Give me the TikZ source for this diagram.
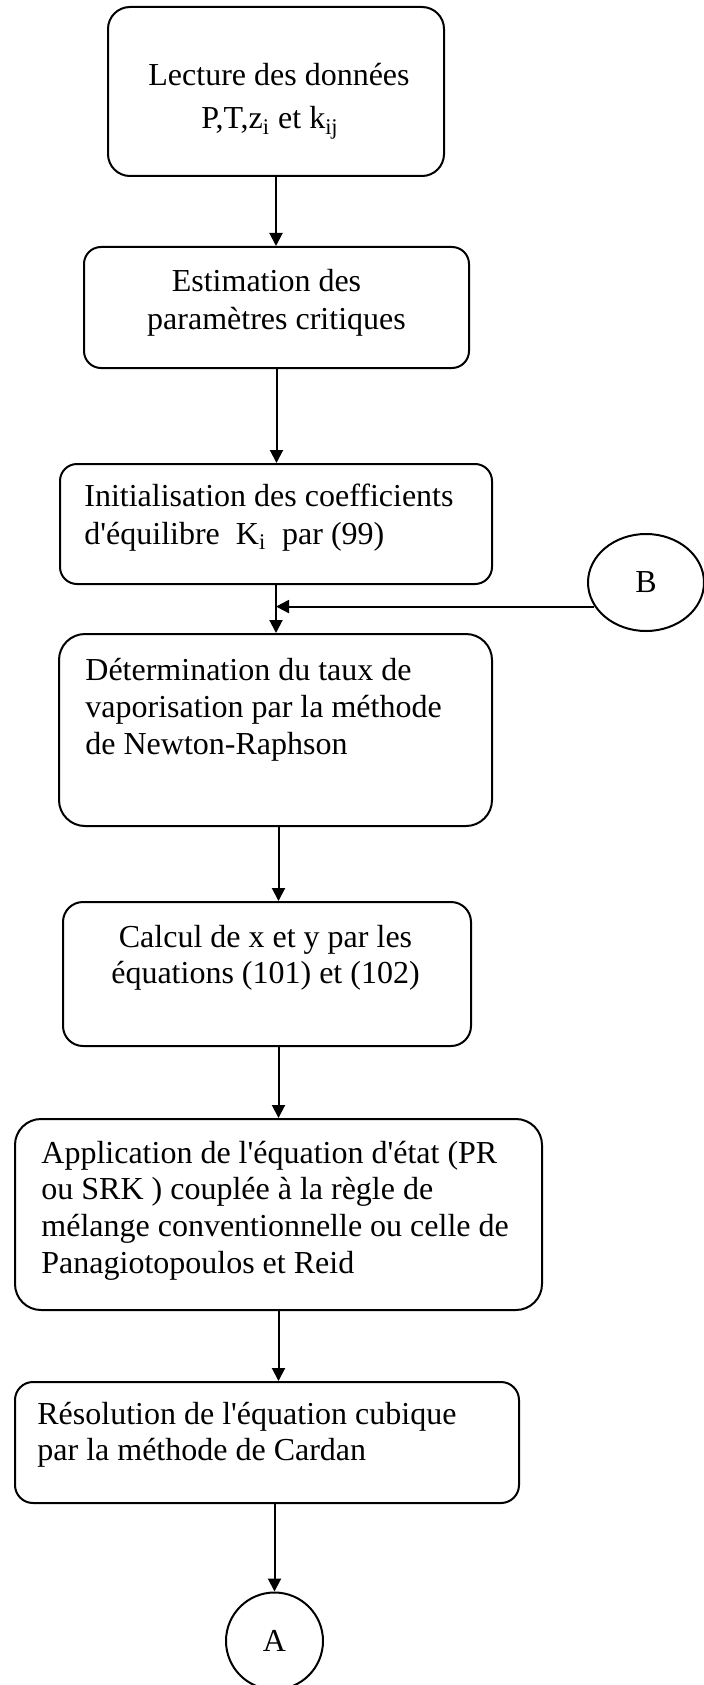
\documentclass[tikz,border=0pt]{standalone}
\usepackage{fontspec}
\setmainfont{Liberation Serif}
\usetikzlibrary{arrows.meta,shapes.geometric}
\begin{document}
\begin{tikzpicture}[x=0.5pt,y=-0.5pt,
  box/.style={draw,line width=1pt,rounded corners=#1,inner sep=0pt,anchor=north west},
  box/.default=10pt,
  txt/.style={inner sep=0pt,anchor=base west},
  ctxt/.style={inner sep=0pt,anchor=base},
  conn/.style={draw,line width=1pt,inner sep=0pt,font=\fontsize{16}{19}\selectfont},
  arr/.style={line width=1pt,-{Triangle[length=6.5pt,width=6.5pt]}}]
\fill[white] (0,0) rectangle (703,1685);
\useasboundingbox (0,0) rectangle (703,1685);
% boxes
\node[box=11pt,minimum width=168pt,minimum height=84.5pt] (b1) at (107,6) {};
\node[box=8.5pt,minimum width=192.5pt,minimum height=60.5pt] (b2) at (83,246) {};
\node[box=8.5pt,minimum width=216pt,minimum height=60pt] (b3) at (59,463) {};
\node[box=13pt,minimum width=216.5pt,minimum height=96pt] (b4) at (58,633) {};
\node[box=10pt,minimum width=204pt,minimum height=72pt] (b5) at (62,901) {};
\node[box=13pt,minimum width=263.5pt,minimum height=95.5pt] (b6) at (14,1118) {};
\node[box=9pt,minimum width=252pt,minimum height=60.5pt] (b7) at (14,1381) {};
\node[conn,circle,minimum size=48.5pt] (A) at (274.5,1641) {A};
\node[conn,ellipse,minimum width=58pt,minimum height=48.5pt] (B) at (646,582.5) {B};
% texts
\node[ctxt,font=\fontsize{16}{21.5}\selectfont] (t1) at (275,86)
  {\begin{tabular}[t]{@{}c@{}}\hspace*{4pt}Lecture des données\\ P,T,z\textsubscript{i} et k\textsubscript{ij}\hspace*{5pt}\end{tabular}};
\node[ctxt,font=\fontsize{16}{19}\selectfont] (t2) at (276.5,291)
  {\begin{tabular}[t]{@{}c@{}}Estimation des\hspace*{10pt}\\ paramètres critiques\end{tabular}};
\node[txt,font=\fontsize{16}{19}\selectfont] (t3) at (84,506)
  {\begin{tabular}[t]{@{}l@{}}Initialisation des coefficients\\ d\textquotesingle équilibre\ \ K\textsubscript{i}\ \ par (99)\end{tabular}};
\node[txt,font=\fontsize{16}{18.5}\selectfont] (t4) at (85,680)
  {\begin{tabular}[t]{@{}l@{}}Détermination du taux de\\ vaporisation par la méthode\\ de Newton-Raphson\end{tabular}};
\node[ctxt,font=\fontsize{16}{18}\selectfont] (t5) at (265.5,947)
  {\begin{tabular}[t]{@{}c@{}}Calcul de x et y par les\\ équations (101) et (102)\end{tabular}};
\node[txt,font=\fontsize{16}{18.4}\selectfont] (t6) at (41,1163)
  {\begin{tabular}[t]{@{}l@{}}Application de l\textquotesingle équation d\textquotesingle état (PR\\ ou SRK ) couplée à la règle de\\ mélange conventionnelle ou celle de\\ Panagiotopoulos et Reid\end{tabular}};
\node[txt,font=\fontsize{16}{18}\selectfont] (t7) at (37,1424)
  {\begin{tabular}[t]{@{}l@{}}Résolution de l\textquotesingle équation cubique\\ par la méthode de Cardan\end{tabular}};
% connectors
\draw[arr] (b1.south) -- (b1.south |- b2.north);
\draw[arr] (b2.south) -- (b2.south |- b3.north);
\draw[arr] (b3.south) -- (b3.south |- b4.north);
\draw[arr] (B.205) -- (B.205 -| b3.south);
\draw[arr] (b4.south -| b6.north) -- (b5.north -| b6.north);
\draw[arr] (b5.south -| b6.north) -- (b6.north);
\draw[arr] (b6.south) -- (b6.south |- b7.north);
\draw[arr] (A.north |- b7.south) -- (A.north);
\end{tikzpicture}
\end{document}
